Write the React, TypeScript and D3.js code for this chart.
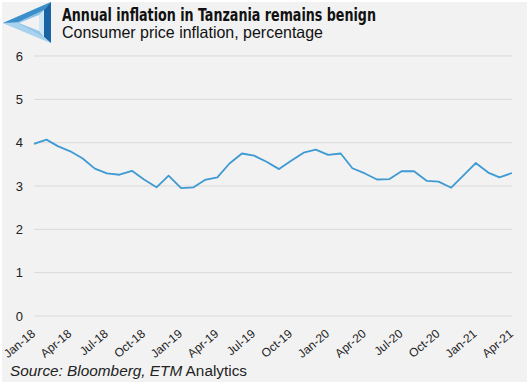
import * as d3 from "d3";

const startMonth = new Date(2018, 0, 1);
// monthly CPI inflation, Jan-18 .. Apr-21
const inflation = [
  3.97, 4.07, 3.92, 3.8, 3.64, 3.4, 3.29, 3.26, 3.35, 3.15, 2.97, 3.24,
  2.95, 2.97, 3.14, 3.2, 3.52, 3.75, 3.7, 3.56, 3.39, 3.58, 3.77, 3.84,
  3.72, 3.75, 3.41, 3.29, 3.15, 3.16, 3.34, 3.34, 3.12, 3.1, 2.96, 3.24,
  3.53, 3.31, 3.2, 3.3,
];
const xTickLabels = [
  "Jan-18", "Apr-18", "Jul-18", "Oct-18", "Jan-19", "Apr-19", "Jul-19",
  "Oct-19", "Jan-20", "Apr-20", "Jul-20", "Oct-20", "Jan-21", "Apr-21",
];
const yTicks = [0, 1, 2, 3, 4, 5, 6];

const W = 529;
const H = 384;

export default function App() {
  const dates = inflation.map((_, i) => d3.timeMonth.offset(startMonth, i));
  const x = d3
    .scaleTime()
    .domain([dates[0], dates[dates.length - 1]])
    .range([34, 512]);
  const y = d3.scaleLinear().domain([0, 6]).range([316, 56]);
  const line = d3
    .line<number>()
    .x((_, i) => x(dates[i]))
    .y((d) => y(d));
  const tickDates = xTickLabels.map((_, i) => d3.timeMonth.offset(startMonth, i * 3));

  return (
    <svg
      width={W}
      height={H}
      style={{ position: "absolute", left: 0, top: 0, fontFamily: "Liberation Sans, Arial, sans-serif" }}
    >
      <rect x={0} y={0} width={W} height={H} fill="#ffffff" />
      <rect x={2} y={2} width={W - 4} height={H - 4} fill="#f2f2f2" />

      {/* logo: impossible triangle */}
      <g>
        <polygon points="3,23 51,2 51,43" fill="#8fc4e8" />
        <polygon points="3,23 51,2 44,10 18,22" fill="#3c8fcb" />
        <polygon points="44,10 51,2 51,43 44,37" fill="#1b64a3" />
        <polygon points="3,23 18,23 44,37 51,43" fill="#a8d2ee" />
        <polygon points="19,23 39,15 39,31" fill="#f2f2f2" />
        <polygon points="39,15 44,10 44,37 39,31" fill="#cfe6f5" />
      </g>

      <text
        x={62}
        y={20.5}
        fontFamily="DejaVu Sans Condensed, DejaVu Sans"
        fontWeight="bold"
        fontSize={17}
        fill="#111"
        textLength={314}
        lengthAdjust="spacingAndGlyphs"
      >
        Annual inflation in Tanzania remains benign
      </text>
      <text x={62} y={38} fontSize={16.5} fill="#111" textLength={261} lengthAdjust="spacingAndGlyphs">
        Consumer price inflation, percentage
      </text>

      {yTicks.map((t) => (
        <g key={t}>
          <line x1={34} x2={512} y1={y(t)} y2={y(t)} stroke="#d9d9d9" strokeWidth={1} />
          <text x={23} y={y(t)} dy="0.35em" textAnchor="end" fontSize={13} fill="#222">
            {t}
          </text>
        </g>
      ))}

      {xTickLabels.map((lab, i) => (
        <text
          key={lab}
          transform={`translate(${x(tickDates[i]) + 2},${335}) rotate(-40)`}
          textAnchor="end"
          fontSize={12}
          fill="#222"
        >
          {lab}
        </text>
      ))}

      <path d={line(inflation) || ""} fill="none" stroke="#3f9ad3" strokeWidth={1.8} strokeLinejoin="round" />

      <text x={10} y={376} fontSize={14} fill="#222" textLength={237} lengthAdjust="spacingAndGlyphs">
        <tspan fontStyle="italic">Source: Bloomberg, ETM</tspan>
        <tspan> Analytics</tspan>
      </text>
    </svg>
  );
}
